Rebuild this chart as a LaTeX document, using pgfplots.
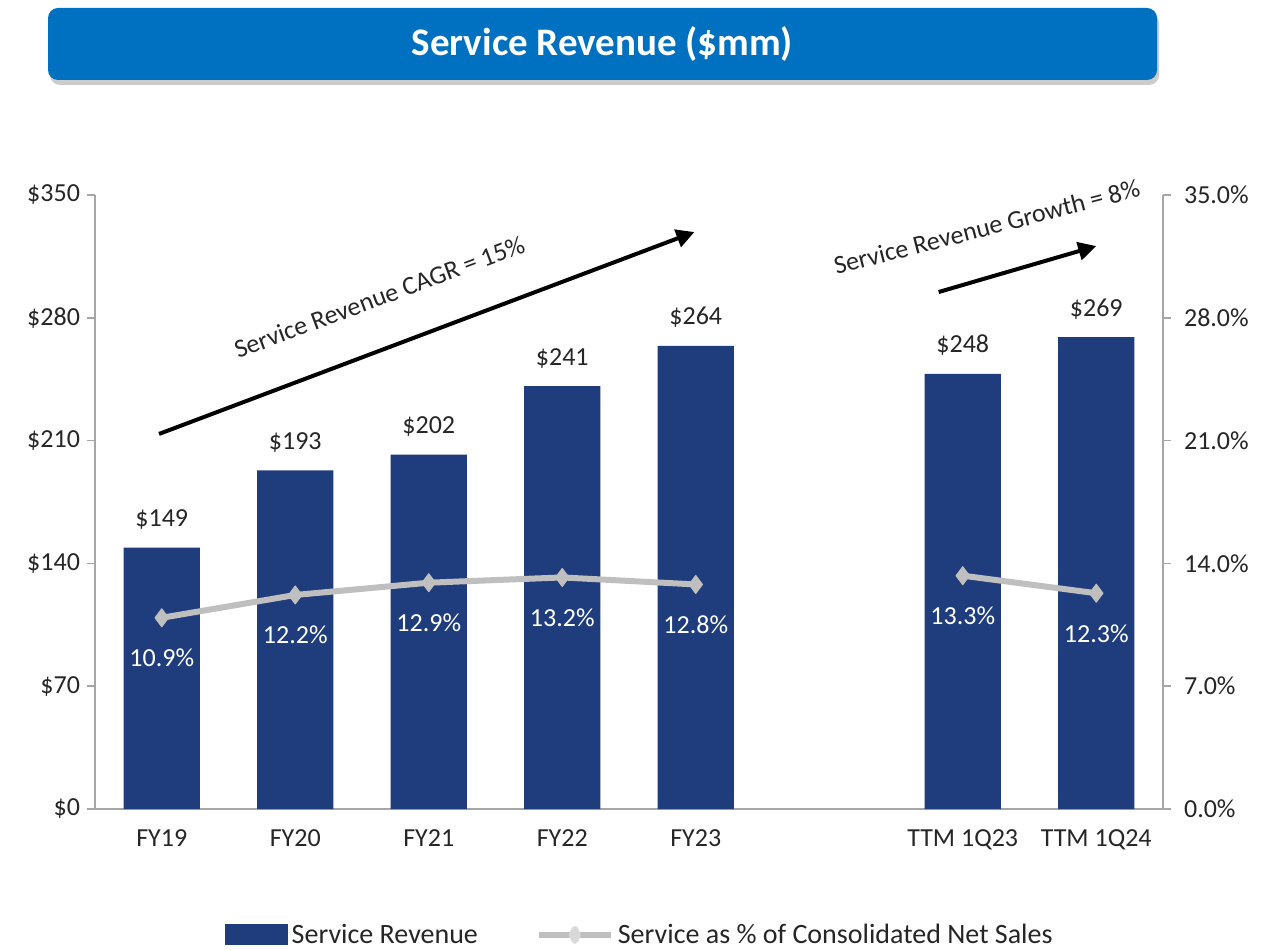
\documentclass[border=0pt]{standalone}
\usepackage{pgfplots}
\pgfplotsset{compat=1.18}
\usepackage{fontspec}
\setmainfont{Carlito}
\usetikzlibrary{shadows,arrows.meta}
\definecolor{navy}{HTML}{1F3D7C}
\definecolor{banner}{HTML}{0070C0}
\definecolor{lgray}{HTML}{BFBFBF}
\definecolor{axgray}{HTML}{A6A6A6}
\begin{document}
\begin{tikzpicture}[font=\fontsize{13}{15}\selectfont]
\useasboundingbox (0,0) rectangle (640.5pt,474.5pt);
\fill[white] (0,0) rectangle (640.5pt,474.5pt);
\node[fill=banner, rounded corners=5pt, inner sep=0pt, minimum width=554.5pt, minimum height=36pt,
  drop shadow={opacity=0.4, shadow xshift=1pt, shadow yshift=-2.5pt}]
  at (301.25pt,452.5pt) {\fontsize{19.5}{22}\selectfont\bfseries\color{white}Service Revenue (\$mm)};

\begin{axis}[at={(47.5pt,70pt)}, anchor=south west, width=534pt, height=307pt, scale only axis,
  xmin=-0.5, xmax=7.5, ymin=0, ymax=350,
  xtick={0,1,2,3,4,6,7}, xticklabels={FY19,FY20,FY21,FY22,FY23,TTM 1Q23,TTM 1Q24},
  ytick={0,70,140,210,280,350},
  yticklabel={\$\pgfmathprintnumber{\tick}},
  /pgf/number format/assume math mode=true,
  axis y line*=left, axis x line*=bottom,
  axis line style={axgray, line width=0.75pt},
  tick align=outside, major tick length=4pt,
  major tick style={axgray, line width=0.75pt},
  x tick style={draw=none},
  xticklabel style={yshift=-3pt},
  clip=false, ybar, bar width=0.57,
  tick label style={font=\fontsize{13}{15}\selectfont, text=black!85},
]
\addplot[fill=navy, draw=none,
  nodes near coords={\$\pgfmathprintnumber{\pgfplotspointmeta}},
  nodes near coords style={black!85, anchor=south, yshift=5.5pt, font=\fontsize{13}{15}\selectfont}]
  coordinates {(0,149)(1,193)(2,202)(3,241)(4,264)(6,248)(7,269)};
\draw[line width=2pt, -{Triangle[length=9pt,width=9pt]}] (axis cs:-0.02,213.8) -- (axis cs:3.99,328.9);
\node[rotate=20.4, black!85] at (axis cs:1.63,291.9) {Service Revenue CAGR = 15\%};
\draw[line width=2pt, -{Triangle[length=9pt,width=9pt]}] (axis cs:5.82,294.7) -- (axis cs:7.0,320.9);
\node[rotate=14.5, black!85] at (axis cs:6.18,331.8) {Service Revenue Growth = 8\%};
\end{axis}

\begin{axis}[at={(47.5pt,70pt)}, anchor=south west, width=534pt, height=307pt, scale only axis,
  xmin=-0.5, xmax=7.5, ymin=0, ymax=35,
  ytick={0,7,14,21,28,35},
  yticklabel={\pgfmathprintnumber[fixed,fixed zerofill,precision=1]{\tick}\%},
  /pgf/number format/assume math mode=true,
  axis y line*=right, axis x line=none,
  axis line style={axgray, line width=0.75pt},
  tick align=outside, major tick length=4pt,
  major tick style={axgray, line width=0.75pt},
  tick label style={font=\fontsize{13}{15}\selectfont, text=black!85},
  yticklabel style={xshift=3pt},
  clip=false,
  legend style={at={(0.511,-0.205)}, anchor=center, draw=none, fill=none,
    font=\fontsize{14}{16}\selectfont, text=black!85,
    /tikz/every even column/.append style={column sep=27pt}},
  legend columns=2, legend cell align=left,
]
\addlegendimage{legend image code/.code={\fill[navy] (0pt,-5pt) rectangle (31pt,5pt);}}
\addplot[lgray, line width=3pt, line join=round, mark=diamond*, mark size=4.5pt,
  mark options={fill=lgray, draw=lgray, line width=0.5pt},
  nodes near coords={\pgfmathprintnumber[fixed,fixed zerofill,precision=1]{\pgfplotspointmeta}\%},
  nodes near coords style={white, anchor=north, yshift=-12pt, font=\fontsize{13}{15}\selectfont},
  legend image code/.code={\draw[lgray,line width=3pt] (0pt,0pt) -- (36pt,0pt);
    \fill[lgray!60!white] (18pt,3pt) -- (19.5pt,0pt) -- (18pt,-3pt) -- (16.5pt,0pt) -- cycle;}]
  coordinates {(0,10.9)(1,12.2)(2,12.9)(3,13.2)(4,12.8)};
\addplot[lgray, line width=3pt, line join=round, mark=diamond*, mark size=4.5pt,
  mark options={fill=lgray, draw=lgray, line width=0.5pt}, forget plot,
  nodes near coords={\pgfmathprintnumber[fixed,fixed zerofill,precision=1]{\pgfplotspointmeta}\%},
  nodes near coords style={white, anchor=north, yshift=-12pt, font=\fontsize{13}{15}\selectfont}]
  coordinates {(6,13.3)(7,12.3)};
\legend{Service Revenue, Service as \% of Consolidated Net Sales}
\end{axis}
\end{tikzpicture}
\end{document}
